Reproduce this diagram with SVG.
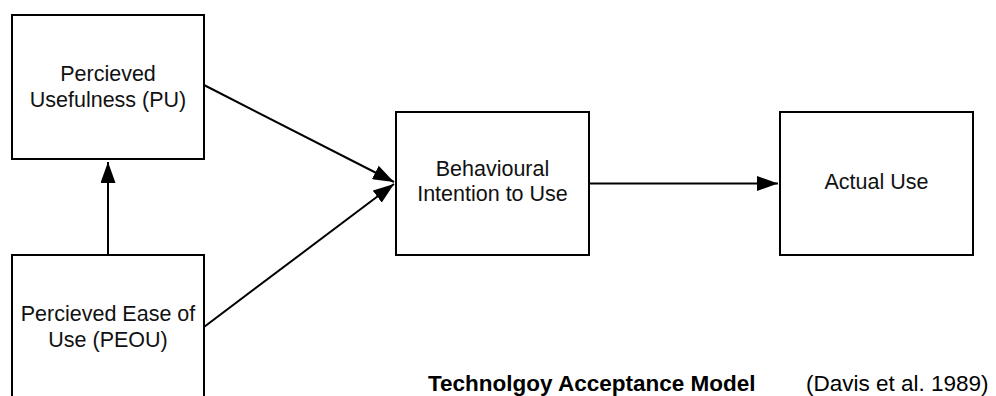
<svg xmlns="http://www.w3.org/2000/svg" width="996" height="396" viewBox="0 0 996 396">
<defs>
<style>
.box{fill:#fff;stroke:#000;stroke-width:2}
.t{font-family:"Liberation Sans",Arial,sans-serif;font-size:21.5px;fill:#111;text-anchor:middle}
.c{stroke:#000;stroke-width:2;fill:none}
.cap{font-family:"Liberation Sans",Arial,sans-serif;font-size:22.5px;fill:#000}
</style>
<marker id="ah" viewBox="0 0 21 15" refX="21" refY="7.5" markerWidth="21" markerHeight="15" markerUnits="userSpaceOnUse" orient="auto">
<path d="M0,0 L21,7.5 L0,15 Z" fill="#000"/>
</marker>
</defs>
<rect width="996" height="396" fill="#fff"/>
<g id="pu">
<rect class="box" x="12" y="15" width="192" height="144"/>
<text class="t" x="108" y="81">Percieved</text>
<text class="t" x="108" y="107">Usefulness (PU)</text>
</g>
<g id="peou">
<rect class="box" x="12" y="255" width="192" height="160"/>
<text class="t" x="108" y="321">Percieved Ease of</text>
<text class="t" x="108" y="347">Use (PEOU)</text>
</g>
<g id="bi">
<rect class="box" x="396" y="112" width="193" height="143"/>
<text class="t" x="492.5" y="176">Behavioural</text>
<text class="t" x="492.5" y="201">Intention to Use</text>
</g>
<g id="au">
<rect class="box" x="780" y="112" width="193" height="143"/>
<text class="t" x="876.5" y="189">Actual Use</text>
</g>
<g id="connectors">
<line class="c" x1="108" y1="255" x2="108" y2="162" marker-end="url(#ah)"/>
<line class="c" x1="204" y1="85" x2="394" y2="182" marker-end="url(#ah)"/>
<line class="c" x1="204" y1="327" x2="394" y2="184" marker-end="url(#ah)"/>
<line class="c" x1="589" y1="183.5" x2="778" y2="183.5" marker-end="url(#ah)"/>
</g>
<g id="caption">
<text class="cap" x="428" y="391" font-weight="bold" font-size="23">Technolgoy Acceptance Model</text>
<text class="cap" x="806" y="391">(Davis et al. 1989)</text>
</g>
</svg>
